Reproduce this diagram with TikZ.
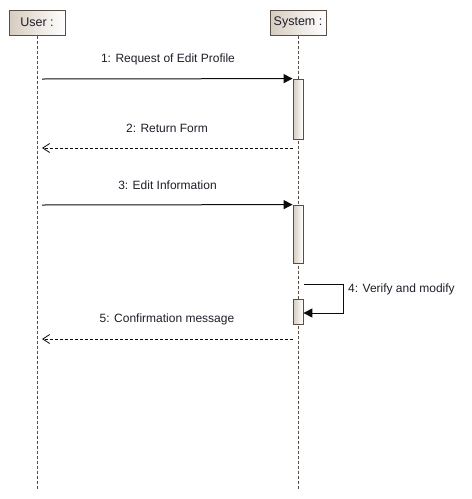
\documentclass[tikz,border=0pt]{standalone}
\usepackage{fontspec}
\setmainfont{Liberation Sans}
\usetikzlibrary{arrows.meta}
\definecolor{edge}{HTML}{5B4D42}
\definecolor{boxl}{HTML}{D6CCC0}
\definecolor{txt}{HTML}{1E1E2A}
\tikzset{
  x=1pt,y=-1pt,
  objbox/.style={draw=edge,line width=1pt,left color=boxl,right color=white,minimum width=56pt,minimum height=25pt,inner sep=0pt,font=\fontsize{12.5}{14}\selectfont,text=txt},
  lifeline/.style={draw=edge,line width=0.9pt,dash pattern=on 3pt off 2pt},
  actbox/.style={draw=edge,line width=0.8pt,left color=boxl,right color=white,minimum width=10pt,inner sep=0pt},
  callmsg/.style={draw=black!85!edge,line width=1pt,-{Triangle[length=9pt,width=9pt]}},
  retmsg/.style={draw=black!85!edge,line width=0.8pt,dash pattern=on 3pt off 2pt,-{Straight Barb[length=7pt,width=9pt]}},
  lbl/.style={font=\fontsize{12}{14}\selectfont,text=txt,inner sep=0pt}
}
\begin{document}
\begin{tikzpicture}
\useasboundingbox (0,0) rectangle (472,499);
% objects
\node[objbox] (user) at (37,22.5) {User :};
\node[objbox] (sys) at (298,22.5) {System :};
\coordinate (userend) at (37,489);
\coordinate (sysend) at (298,489);
\draw[lifeline] (user.south) -- (userend);
\draw[lifeline] (sys.south) -- (sysend);
% activations
\node[actbox,minimum height=60pt] (act1) at (298,109) {};
\node[actbox,minimum height=58pt] (act2) at (298,234) {};
\node[actbox,minimum height=25pt] (act3) at (298,311.5) {};
% coordinates on user lifeline
\coordinate (u1) at (42,79);
\coordinate (u2) at (42,148);
\coordinate (u3) at (42,205);
\coordinate (u5) at (42,339);
% messages
\draw[callmsg] (u1) -- (act1.north west);
\node[lbl] (l1) at (168,59) {1: Request of Edit Profile};
\draw[retmsg] (act1.west |- u2) -- (u2);
\node[lbl] (l2) at (167,128) {2: Return Form};
\draw[callmsg] (u3) -- (act2.north west);
\node[lbl] (l3) at (167.5,185) {3: Edit Information};
\coordinate (s4a) at (304,284);
\coordinate (s4b) at (343,284);
\coordinate (s4c) at (343,313);
\draw[callmsg] (s4a) -- (s4b) -- (s4c) -- (act3.east |- s4c);
\node[lbl,anchor=west] (l4) at (348,289) {4: Verify and modify};
\draw[retmsg] (act1.west |- u5) -- (u5);
\node[lbl] (l5) at (167,319) {5: Confirmation message};
\end{tikzpicture}
\end{document}
